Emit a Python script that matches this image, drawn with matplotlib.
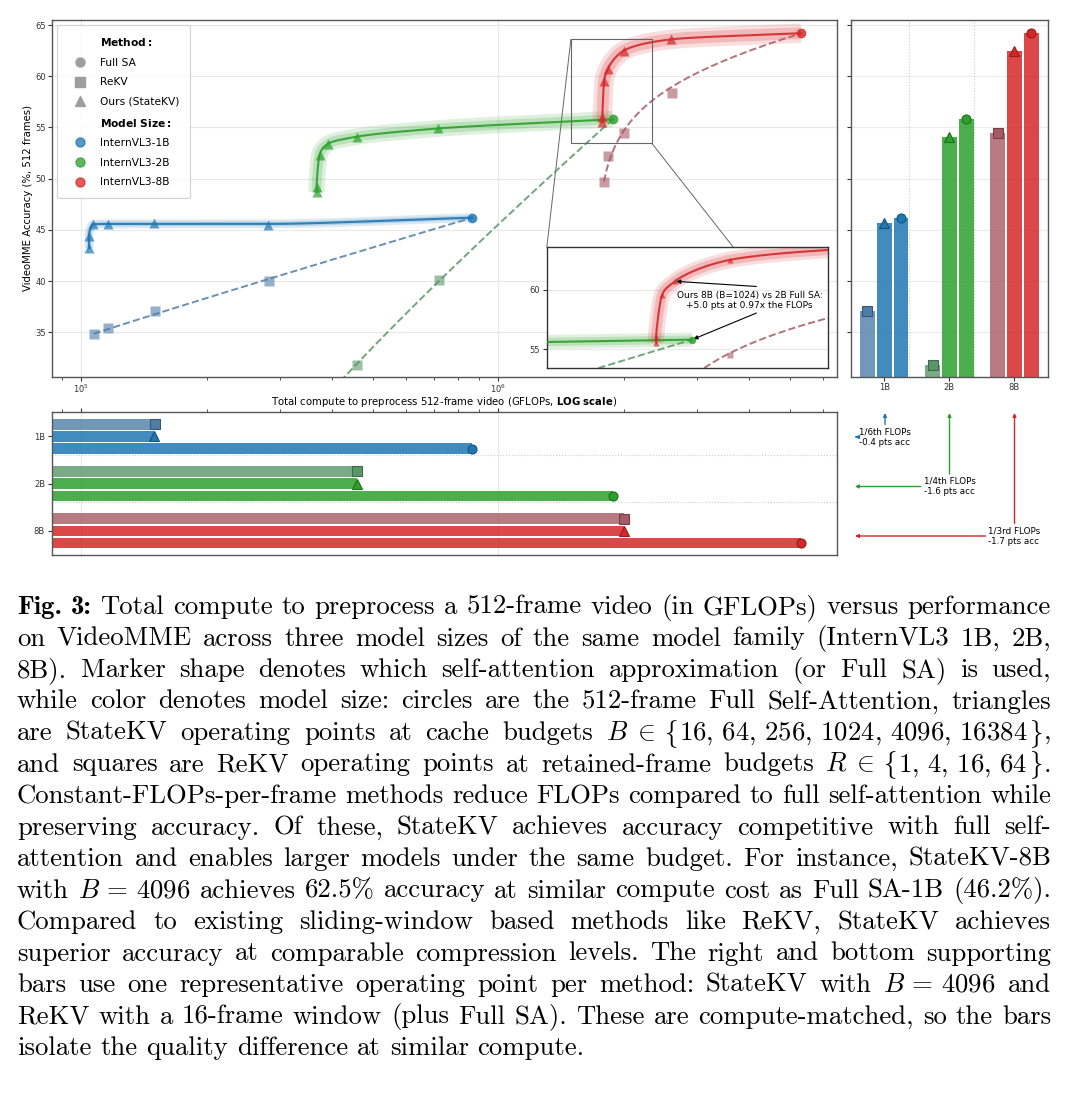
import numpy as np
import matplotlib
matplotlib.use('Agg')
import matplotlib.pyplot as plt
from matplotlib.lines import Line2D
from matplotlib.patches import Rectangle, ConnectionPatch
from matplotlib.transforms import IdentityTransform

# ---------------- data ----------------
model_names = ['1B', '2B', '8B']
legend_names = ['InternVL3-1B', 'InternVL3-2B', 'InternVL3-8B']

# StateKV, cache budget B = 16, 64, 256, 1024, 4096, 16384
skv_flops_1b = [1.045e5, 1.045e5, 1.07e5, 1.159e5, 1.50e5, 2.81e5]
skv_acc_1b = [43.2, 44.4, 45.55, 45.6, 45.7, 45.45]
skv_flops_2b = [3.67e5, 3.67e5, 3.73e5, 3.905e5, 4.58e5, 7.16e5]
skv_acc_2b = [48.7, 49.2, 52.3, 53.4, 54.1, 54.9]
skv_flops_8b = [1.778e6, 1.778e6, 1.795e6, 1.832e6, 2.0e6, 2.6e6]
skv_acc_8b = [55.55, 56.05, 59.55, 60.7, 62.5, 63.6]

# ReKV, retained frames R = 1, 4, 16, 64 (2B R=1,4 lie below the axis)
rekv_flops_1b = [1.072e5, 1.159e5, 1.507e5, 2.83e5]
rekv_acc_1b = [34.85, 35.4, 37.1, 40.0]
rekv_flops_2b = [3.73e5, 3.905e5, 4.58e5, 7.22e5]
rekv_acc_2b = [28.0, 29.0, 31.8, 40.1]
rekv_flops_8b = [1.793e6, 1.832e6, 2.0e6, 2.61e6]
rekv_acc_8b = [49.7, 52.25, 54.5, 58.4]

# full self-attention (512 frames)
full_flops = [8.67e5, 1.883e6, 5.32e6]
full_acc = [46.2, 55.8, 64.2]

side_notes = ['1/6th FLOPs\n-0.4 pts acc', '1/4th FLOPs\n-1.6 pts acc', '1/3rd FLOPs\n-1.7 pts acc']
inset_note = 'Ours 8B (B=1024) vs 2B Full SA:\n+5.0 pts at 0.97x the FLOPs'

skv_flops = [skv_flops_1b, skv_flops_2b, skv_flops_8b]
skv_acc = [skv_acc_1b, skv_acc_2b, skv_acc_8b]
rekv_flops = [rekv_flops_1b, rekv_flops_2b, rekv_flops_8b]
rekv_acc = [rekv_acc_1b, rekv_acc_2b, rekv_acc_8b]
REKV_IDX, SKV_IDX = 2, 4   # R=16 and B=4096 used in the side bars

colors = ['#1f77b4', '#2ca02c', '#d62728']
rekv_colors = ['#4e7ea6', '#5a9668', '#a65a63']
band_outer = [6.5, 12, 14]
band_inner = [3.5, 7, 8.5]

W, H = 1075, 1095
XMIN, XMAX = 8.52e4, 6.48e6
YMIN, YMAX = 30.67, 65.49


def darker(c, f=0.7):
    r, g, b = matplotlib.colors.to_rgb(c)
    return (r * f, g * f, b * f)


def log_fit(xs, ys, n=300):
    # weighted fit acc = a + b*ln(x - x0), ends pinned harder
    xs = np.asarray(xs, float)
    ys = np.asarray(ys, float)
    w = np.ones_like(xs)
    w[0] = w[-1] = 20.0
    best = None
    for q in np.geomspace(1e-4, 1.0, 300):
        x0 = xs.min() * (1 - q)
        u = np.log(xs - x0)
        A = np.vstack([np.ones_like(u), u]).T * np.sqrt(w)[:, None]
        coef = np.linalg.lstsq(A, ys * np.sqrt(w), rcond=None)[0]
        err = np.sum(w * (coef[0] + coef[1] * u - ys) ** 2)
        if best is None or err < best[0]:
            best = (err, x0, coef)
    _, x0, (a, b) = best
    xx = np.geomspace(xs.min(), xs.max(), n)
    return xx, a + b * np.log(xx - x0)


def isotonic(y):
    out = []
    for v in y:
        out.append([v, 1])
        while len(out) > 1 and out[-2][0] > out[-1][0]:
            v2, n2 = out.pop()
            v1, n1 = out.pop()
            out.append([(v1 * n1 + v2 * n2) / (n1 + n2), n1 + n2])
    return np.concatenate([[v] * n for v, n in out])


def slopes(y):
    d = np.diff(y)
    m = np.zeros(len(y))
    for k in range(1, len(y) - 1):
        if d[k - 1] * d[k] > 0:
            m[k] = 2.0 / (1.0 / d[k - 1] + 1.0 / d[k])
    m[0], m[-1] = d[0], d[-1]
    return m


def hermite(y, m, tt):
    k = np.clip(np.floor(tt).astype(int), 0, len(y) - 2)
    s = tt - k
    h00 = 2 * s**3 - 3 * s**2 + 1
    h10 = s**3 - 2 * s**2 + s
    h01 = -2 * s**3 + 3 * s**2
    h11 = s**3 - s**2
    return h00 * y[k] + h10 * m[k] + h01 * y[k + 1] + h11 * m[k + 1]


def smooth_curve(xs, ys, n=400):
    lx = np.log10(xs)
    yy = isotonic(ys)
    tt = np.linspace(0, len(lx) - 1, n)
    return 10 ** hermite(lx, slopes(lx), tt), hermite(yy, slopes(yy), tt)


def draw_series(a, ms, band_scale=1.0):
    for i in range(3):
        c = colors[i]
        fx, fy = log_fit(rekv_flops[i] + [full_flops[i]], rekv_acc[i] + [full_acc[i]])
        a.plot(fx, fy, ls='--', color=rekv_colors[i], lw=1.4, alpha=0.85, zorder=2)
        sx, sy = smooth_curve(skv_flops[i] + [full_flops[i]], skv_acc[i] + [full_acc[i]])
        a.plot(sx, sy, color=c, lw=band_outer[i] * band_scale, alpha=0.15,
               solid_capstyle='butt', zorder=1)
        a.plot(sx, sy, color=c, lw=band_inner[i] * band_scale, alpha=0.2,
               solid_capstyle='butt', zorder=1)
        a.plot(sx, sy, color=c, lw=1.5, alpha=0.9, zorder=3)
        a.plot(rekv_flops[i], rekv_acc[i], 's', color=rekv_colors[i], ms=ms,
               alpha=0.6, mec='none', zorder=4)
        a.plot(skv_flops[i], skv_acc[i], '^', color=c, ms=ms, alpha=0.7,
               mec='none', zorder=4)
        a.plot(full_flops[i], full_acc[i], 'o', color=c, ms=ms + 0.5, alpha=0.85,
               mec='none', zorder=4)


def px_box(l, t, r, b):
    return [l / W, 1 - b / H, (r - l) / W, (b - t) / H]


def style_spines(a, col='#555555', lw=1.0):
    for s in a.spines.values():
        s.set_color(col)
        s.set_linewidth(lw)


fig = plt.figure(figsize=(W / 100, H / 100), dpi=100)
ax = fig.add_axes(px_box(52, 20, 836.7, 376.7))
axr = fig.add_axes(px_box(851, 20, 1047.7, 376.7), sharey=ax)
axb = fig.add_axes(px_box(52, 412.3, 836.7, 555), sharex=ax)

# ---------------- main scatter ----------------
ax.set_xscale('log')
ax.set_xlim(XMIN, XMAX)
ax.set_ylim(YMIN, YMAX)
ax.set_yticks([35, 40, 45, 50, 55, 60, 65])
ax.grid(True, which='major', color='#e8e8e8', lw=0.8)
ax.set_axisbelow(True)
draw_series(ax, 6.5)
ax.set_xlabel('Total compute to preprocess 512-frame video (GFLOPs, $\\bf{LOG\\ scale}$)',
              fontsize=7.3, labelpad=0)
ax.set_ylabel('VideoMME Accuracy (%, 512 frames)', fontsize=7.3, labelpad=1.5)
ax.tick_params(axis='both', which='major', labelsize=6, length=3, width=0.8, pad=1.5,
               colors='#333333')
ax.tick_params(axis='x', which='minor', length=2, width=0.6, colors='#333333')
style_spines(ax)

gray = '#9e9e9e'
handles = [Line2D([], [], ls='none', label=r'$\bf{Method:}$'),
           Line2D([], [], ls='none', marker='o', color=gray, ms=6.5, label='Full SA'),
           Line2D([], [], ls='none', marker='s', color=gray, ms=6.5, label='ReKV'),
           Line2D([], [], ls='none', marker='^', color=gray, ms=6.5, label='Ours (StateKV)'),
           Line2D([], [], ls='none', label=r'$\bf{Model\ Size:}$')]
for i in range(3):
    handles.append(Line2D([], [], ls='none', marker='o', color=colors[i], alpha=0.75,
                          ms=6.5, label=legend_names[i]))
leg = ax.legend(handles=handles, loc='upper left', fontsize=7.7, borderpad=1.0,
                labelspacing=0.9, handlelength=2.2, handletextpad=0.8,
                edgecolor='#cccccc', framealpha=0.9)
leg.get_frame().set_linewidth(0.8)

# ---------------- inset ----------------
ix0, ix1, iy0, iy1 = 1.494e6, 2.337e6, 53.44, 63.6
axins = ax.inset_axes([0.6306, 0.0252, 0.358, 0.339])
axins.set_xscale('log')
draw_series(axins, 4.8, band_scale=0.85)
axins.set_xlim(ix0, ix1)
axins.set_ylim(iy0, iy1)
axins.set_yticks([55, 60])
axins.grid(True, which='major', color='#e8e8e8', lw=0.8)
axins.set_axisbelow(True)
axins.tick_params(axis='x', which='both', bottom=False, labelbottom=False)
axins.tick_params(axis='y', labelsize=6, length=3, width=0.8, pad=2, colors='#333333')
style_spines(axins, '#333333', 1.0)
axins.text(0.722, 0.556, inset_note, transform=axins.transAxes, ha='center', va='center',
           fontsize=6.5)
axins.annotate('', xy=(skv_flops_8b[3], skv_acc_8b[3]), xytext=(0.746, 0.672),
               textcoords='axes fraction',
               arrowprops=dict(arrowstyle='-|>', color='black', lw=0.8, mutation_scale=6,
                               shrinkA=0, shrinkB=1))
axins.annotate('', xy=(full_flops[1], full_acc[1]), xytext=(0.746, 0.452),
               textcoords='axes fraction',
               arrowprops=dict(arrowstyle='-|>', color='black', lw=0.8, mutation_scale=6,
                               shrinkA=0, shrinkB=1))

ax.add_patch(Rectangle((ix0, iy0), ix1 - ix0, iy1 - iy0, fill=False, ec='#666666', lw=0.8,
                       zorder=4.5))
for xyA, xyB in [((ix0, iy1), (0, 1)), ((ix1, iy0), (1, 0))]:
    cp = ConnectionPatch(xyA=xyA, coordsA=ax.transData, xyB=xyB, coordsB=axins.transAxes,
                         color='#666666', lw=0.7, zorder=1)
    ax.add_artist(cp)

# ---------------- right bars (accuracy) ----------------
off, bw = 0.258, 0.226
for i in range(3):
    vals = [rekv_acc[i][REKV_IDX], skv_acc[i][SKV_IDX], full_acc[i]]
    cols = [rekv_colors[i], colors[i], colors[i]]
    marks = ['s', '^', 'o']
    for j in range(3):
        xpos = i + (j - 1) * off
        axr.bar(xpos, vals[j] - YMIN, bottom=YMIN, width=bw, color=cols[j],
                alpha=0.8 if j == 0 else 0.85, zorder=2)
        axr.plot(xpos, vals[j], marks[j], color=cols[j], ms=6.5, mec=darker(cols[j]),
                 mew=0.8, zorder=3, clip_on=False)
axr.set_xlim(-0.51, 2.51)
axr.set_xticks(range(3))
axr.set_xticklabels(model_names)
for s in [0.385, 1.385]:
    axr.axvline(s, ls=':', color='#cccccc', lw=0.8, zorder=1)
axr.grid(True, axis='y', color='#ececec', lw=0.8)
axr.set_axisbelow(True)
axr.tick_params(axis='y', labelleft=False, length=3, width=0.8, colors='#333333')
axr.tick_params(axis='x', labelsize=6, length=3, width=0.8, pad=1.5, colors='#333333')
style_spines(axr)

# ---------------- bottom bars (compute) ----------------
for i in range(3):
    vals = [rekv_flops[i][REKV_IDX], skv_flops[i][SKV_IDX], full_flops[i]]
    cols = [rekv_colors[i], colors[i], colors[i]]
    marks = ['s', '^', 'o']
    for j in range(3):
        ypos = i + (j - 1) * off
        axb.barh(ypos, vals[j] - XMIN, left=XMIN, height=bw, color=cols[j],
                 alpha=0.8 if j == 0 else 0.85, zorder=2)
        axb.plot(vals[j], ypos, marks[j], color=cols[j], ms=6.5, mec=darker(cols[j]),
                 mew=0.8, zorder=3)
axb.set_ylim(2.51, -0.51)
axb.set_yticks(range(3))
axb.set_yticklabels(model_names)
for s in [0.385, 1.385]:
    axb.axhline(s, ls=':', color='#cccccc', lw=0.8, zorder=1)
axb.grid(True, axis='x', which='major', color='#e8e8e8', lw=0.8)
axb.set_axisbelow(True)
axb.xaxis.set_ticks_position('top')
axb.tick_params(axis='x', which='both', labeltop=False, labelbottom=False, colors='#333333')
axb.tick_params(axis='x', which='major', length=3, width=0.8)
axb.tick_params(axis='x', which='minor', length=2, width=0.6)
axb.tick_params(axis='y', labelsize=6, length=3, width=0.8, pad=2, colors='#333333')
style_spines(axb)

# ---------------- side notes with arrows ----------------
note_x = [885, 949.5, 1014.5]
note_y = [437, 486.5, 536]
for i in range(3):
    xt = (note_x[i], H - note_y[i])
    axr.annotate(side_notes[i], xy=(note_x[i], H - 413), xytext=xt,
                 xycoords='figure pixels', textcoords='figure pixels',
                 ha='center', va='center', multialignment='left', fontsize=6.3,
                 arrowprops=dict(arrowstyle='-|>', color=colors[i], lw=1.0,
                                 mutation_scale=5, shrinkA=0, shrinkB=0))
    axr.annotate(side_notes[i], xy=(855, H - note_y[i]), xytext=xt,
                 xycoords='figure pixels', textcoords='figure pixels',
                 ha='center', va='center', multialignment='left', fontsize=6.3,
                 color=(0, 0, 0, 0),
                 arrowprops=dict(arrowstyle='-|>', color=colors[i], lw=1.0,
                                 mutation_scale=5, shrinkA=0, shrinkB=0))

# ---------------- caption (justified, Computer Modern) ----------------
# '|' joins pieces of one word; '{' / '}' pieces come from cmsy10, '~' is a math space
caption_lines = [
    "**Fig.** **3:** Total compute to preprocess a 512-frame video (in GFLOPs) versus performance",
    "on VideoMME across three model sizes of the same model family (InternVL3 1B, 2B,",
    "8B). Marker shape denotes which self-attention approximation (or Full SA) is used,",
    "while color denotes model size: circles are the 512-frame Full Self-Attention, triangles",
    r"are StateKV operating points at cache budgets $B\;\in$|~|{|$16,\,64,\,256,\,1024,\,4096,\,16384$|}|,",
    r"and squares are ReKV operating points at retained-frame budgets $R\;\in$|~|{|$1,\,4,\,16,\,64$|}|.",
    "Constant-FLOPs-per-frame methods reduce FLOPs compared to full self-attention while",
    "preserving accuracy. Of these, StateKV achieves accuracy competitive with full self-",
    "attention and enables larger models under the same budget. For instance, StateKV-8B",
    r"with $B\,=\,4096$ achieves 62.5% accuracy at similar compute cost as Full SA-1B (46.2%).",
    "Compared to existing sliding-window based methods like ReKV, StateKV achieves",
    "superior accuracy at comparable compression levels. The right and bottom supporting",
    r"bars use one representative operating point per method: StateKV with $B\,=\,4096$ and",
    "ReKV with a 16-frame window (plus Full SA). These are compute-matched, so the bars",
    "isolate the quality difference at similar compute.",
]
CAP_LEFT, CAP_RIGHT = 17, 1051
CAP_BASE0, CAP_STEP = 614, 31.5
LAST_WIDTH = 579
PIECE_GAP = 1.5

renderer = fig.canvas.get_renderer()


def make_words(line, fs):
    words = []
    for tok in line.split(' '):
        pieces = []
        for seg in tok.split('|'):
            if seg == '~':
                pieces.append((None, 0.2 * fs * 100 / 72))
                continue
            fam = 'cmr10'
            if seg.startswith('**'):
                seg, fam = seg.strip('*'), 'cmb10'
            elif seg == '{':
                seg, fam = 'f', 'cmsy10'
            elif seg == '}':
                seg, fam = 'g', 'cmsy10'
            t = fig.text(0, 0, seg, fontsize=fs, family=fam, math_fontfamily='cm',
                         ha='left', va='baseline', transform=IdentityTransform())
            pieces.append((t, t.get_window_extent(renderer).width))
        words.append(pieces)
    return words


def word_width(pieces):
    return sum(w for _, w in pieces) + PIECE_GAP * (len(pieces) - 1)


def clear(words):
    for p in words:
        for t, _ in p:
            if t is not None:
                t.remove()


# pick the size: last line at its natural width, but no justified line may be too tight
fs0 = 18.0
sp0 = 0.333 * fs0 * 100 / 72
nat = []
for line in caption_lines:
    ws = make_words(line, fs0)
    nat.append(sum(word_width(p) for p in ws) + sp0 * (len(ws) - 1))
    clear(ws)
fs = min(fs0 * LAST_WIDTH / nat[-1],
         fs0 * (CAP_RIGHT - CAP_LEFT) * 1.005 / max(nat[:-1]))
space = 0.333 * fs * 100 / 72

for k, line in enumerate(caption_lines):
    words = make_words(line, fs)
    widths = [word_width(p) for p in words]
    last = k == len(caption_lines) - 1
    gap = space if last else (CAP_RIGHT - CAP_LEFT - sum(widths)) / (len(words) - 1)
    x = CAP_LEFT
    y = H - (CAP_BASE0 + k * CAP_STEP)
    for pieces, ww in zip(words, widths):
        xx = x
        for t, w in pieces:
            if t is not None:
                t.set_position((xx, y))
            xx += w + PIECE_GAP
        x += ww + gap

fig.savefig('out.png', dpi=100)
